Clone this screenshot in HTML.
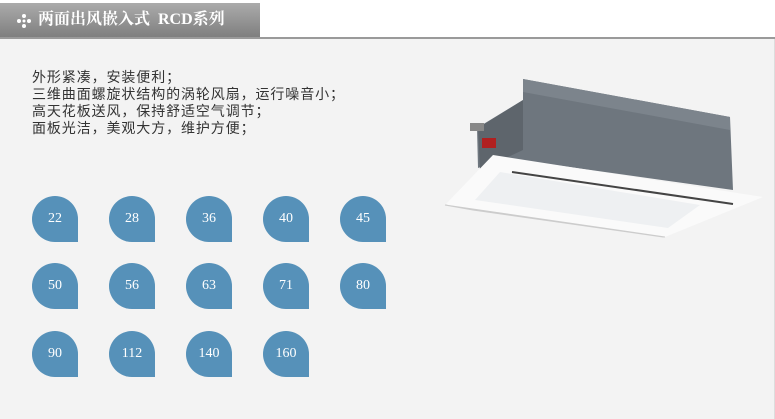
<!DOCTYPE html>
<html><head><meta charset="utf-8"><style>
body{margin:0;width:775px;height:419px;background:#fff;position:relative;overflow:hidden;font-family:"Liberation Sans","Noto Sans CJK SC",sans-serif}
.hdr{position:absolute;left:0;top:3px;width:260px;height:34px;background:linear-gradient(#ababab,#7f7f7f);color:#fff;font-weight:bold;font-size:16px;line-height:34px}
.hdr span{position:absolute;left:38px;top:0;font-family:"Liberation Serif","Noto Serif CJK SC",serif}
.line{position:absolute;left:0;top:37px;width:775px;height:2px;background:#9a9a9a}
.body{position:absolute;left:0;top:39px;width:774px;height:380px;background:#f3f3f3;border-right:1px solid #ddd}
.txt{position:absolute;left:32px;top:69px;font-size:14px;line-height:17px;color:#333;letter-spacing:0.9px;font-family:"Liberation Sans","WenQuanYi Zen Hei",sans-serif}
.b{position:absolute;width:46px;height:46px;background:#5691b9;border-radius:23px 23px 0 23px;color:#fff;font-family:"Liberation Serif",serif;font-size:14px;text-align:center;line-height:46px}
</style></head><body>
<div class="hdr"><svg style="position:absolute;left:16px;top:10px" width="16" height="16"><g fill="#fff"><circle cx="8" cy="3" r="2"/><circle cx="8" cy="13" r="2"/><circle cx="3" cy="8" r="2"/><circle cx="13" cy="8" r="2"/><circle cx="8" cy="8" r="1.5"/></g></svg><span>两面出风嵌入式&nbsp; RCD系列</span></div>
<div class="line"></div>
<div class="body"></div>
<div class="txt">外形紧凑，安装便利；<br>三维曲面螺旋状结构的涡轮风扇，运行噪音小；<br>高天花板送风，保持舒适空气调节；<br>面板光洁，美观大方，维护方便；</div>
<svg style="position:absolute;left:0;top:0" width="775" height="419">
<polygon points="523,79 730,117 733,190 505,158 478,168 477,128 523,100" fill="#6e767e"/>
<polygon points="523,79 730,117 730,130 523,92" fill="#7c848c"/>
<polygon points="478,128 523,100 523,150 480,170" fill="#5e656c"/>
<rect x="470" y="123" width="14" height="8" fill="#888"/>
<rect x="482" y="138" width="14" height="10" fill="#b02020"/>
<polygon points="445,205 493,155 763,197 665,237" fill="#fafafa"/>
<polygon points="445,205 473,210 663,237 665,237" fill="#ddd" stroke="#ccc"/>
<line x1="512" y1="172" x2="733" y2="204" stroke="#444" stroke-width="2"/>
<polygon points="475,200 500,172 700,205 668,228" fill="#eef0f2"/>
</svg>
<div class="b" style="left:32px;top:196px">22</div>
<div class="b" style="left:109px;top:196px">28</div>
<div class="b" style="left:186px;top:196px">36</div>
<div class="b" style="left:263px;top:196px">40</div>
<div class="b" style="left:340px;top:196px">45</div>
<div class="b" style="left:32px;top:263px">50</div>
<div class="b" style="left:109px;top:263px">56</div>
<div class="b" style="left:186px;top:263px">63</div>
<div class="b" style="left:263px;top:263px">71</div>
<div class="b" style="left:340px;top:263px">80</div>
<div class="b" style="left:32px;top:331px">90</div>
<div class="b" style="left:109px;top:331px">112</div>
<div class="b" style="left:186px;top:331px">140</div>
<div class="b" style="left:263px;top:331px">160</div>
</body></html>
